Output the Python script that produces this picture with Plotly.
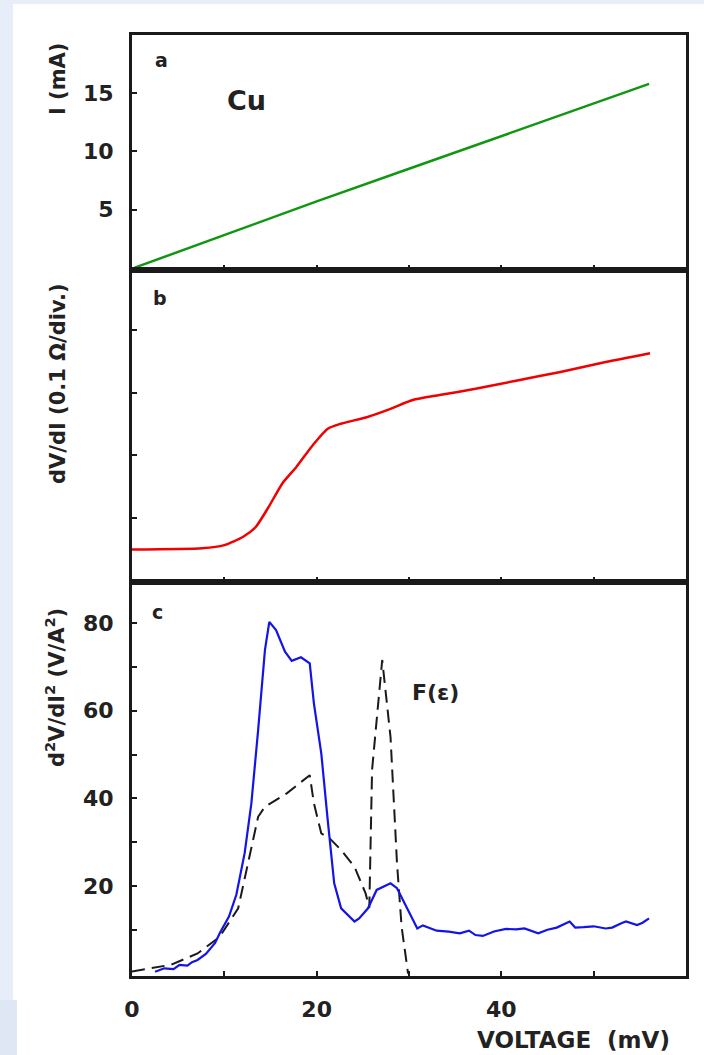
import plotly.graph_objects as go

# ---------------- data ----------------
# panel a : I-V curve (mV, mA)
V_a = [0.3, 10, 20, 30, 40, 50, 56]
I_a = [0.0, 2.8, 5.7, 8.5, 11.3, 14.1, 15.8]

# panel b : dV/dI (divisions of 0.1 ohm)
V_b = [0.0, 7.6, 10.0, 12.0, 13.4, 14.8, 16.3, 17.8, 19.7, 21.2, 22.6, 25.5,
       28.0, 30.4, 33.3, 37.2, 41.6, 46.4, 51.3, 56.1]
R_b = [0.49, 0.51, 0.56, 0.69, 0.85, 1.17, 1.55, 1.81, 2.18, 2.42, 2.50, 2.61,
       2.74, 2.88, 2.96, 3.06, 3.19, 3.33, 3.49, 3.63]

# panel c : d2V/dI2 (V/A^2), measured (blue)
V_c = [2.5, 3.5, 4.5, 5.15, 6.0, 6.5, 7.1, 8.0, 9.0, 9.5, 10.5, 11.3, 12.2,
       12.93, 13.66, 14.4, 14.87, 15.6, 16.57, 17.3, 18.3, 19.25, 19.7, 20.5,
       21.2, 21.7, 21.9, 22.65, 24.1, 24.6, 25.56, 26.5, 28.0, 28.7, 29.7,
       30.9, 31.5, 32.4, 33.0, 34.3, 35.5, 36.5, 37.2, 38.0, 39.2, 40.5, 41.6,
       42.5, 43.5, 44.0, 45.0, 46.0, 47.4, 48.0, 48.9, 50.0, 51.3, 52.0, 53.0,
       53.5, 54.7, 55.3, 56.0]
D_c = [0.4, 1.2, 1.0, 2.0, 1.8, 2.6, 3.1, 4.5, 7.0, 9.2, 13.0, 18.0, 27.5,
       38.9, 55.6, 73.9, 80.3, 78.4, 73.5, 71.4, 72.2, 70.8, 61.7, 50.3,
       35.0, 23.7, 20.6, 14.9, 11.9, 12.6, 14.9, 19.1, 20.6, 19.5, 15.3,
       10.3, 11.0, 10.3, 9.8, 9.6, 9.2, 9.8, 8.8, 8.6, 9.6, 10.2, 10.1,
       10.3, 9.6, 9.2, 10.0, 10.5, 11.9, 10.5, 10.6, 10.8, 10.3, 10.5, 11.5,
       11.9, 11.1, 11.6, 12.6]

# panel c : phonon density of states F(eps) (dashed)
V_F = [0.0, 4.2, 7.1, 9.5, 11.5, 12.9, 13.66, 14.4, 16.8, 19.25, 19.7, 20.5,
       21.4, 22.65, 24.1, 25.3, 25.7, 26.0, 27.1, 28.0, 28.7, 29.2, 29.9]
F_e = [0.5, 2.0, 4.6, 8.4, 14.9, 28.2, 35.8, 38.1, 41.2, 45.3, 38.9, 32.0,
       30.9, 28.2, 24.4, 18.3, 15.0, 46.5, 71.6, 54.0, 25.2, 10.7, 0.0]

x_tickvals = [0, 10, 20, 30, 40, 50]
x_ticktext = ["0", "", "20", "", "40", ""]
a_tickvals = [5, 10, 15]
a_ticktext = ["5", "10", "15"]
b_tickvals = [1, 2, 3, 4]
c_tickvals = [10, 20, 30, 40, 50, 60, 70, 80]
c_ticktext = ["", "20", "", "40", "", "60", "", "80"]

# ---------------- figure ----------------
W, H = 704, 1055
L, R, T, B = 132, 18, 35, 79
PW, PH = W - L - R, H - T - B


def px(x):
    return (x - L) / PW


def py(y):
    return (H - B - y) / PH


FONT = "DejaVu Sans"
INK = "#222222"

fig = go.Figure()
fig.add_trace(go.Scatter(x=V_a, y=I_a, mode="lines", xaxis="x", yaxis="y",
                         line=dict(color="#119611", width=2.5), showlegend=False))
fig.add_trace(go.Scatter(x=V_b, y=R_b, mode="lines", xaxis="x2", yaxis="y2",
                         line=dict(color="#f00000", width=2.5, shape="spline",
                                   smoothing=0.6),
                         showlegend=False))
fig.add_trace(go.Scatter(x=V_F, y=F_e, mode="lines", xaxis="x3", yaxis="y3",
                         line=dict(color="#1a1a1a", width=2, dash="13px,7px"),
                         showlegend=False))
fig.add_trace(go.Scatter(x=V_c, y=D_c, mode="lines", xaxis="x3", yaxis="y3",
                         line=dict(color="#1414e6", width=2.2), showlegend=False))

dom_c = [0, py(582)]
dom_b = [py(582), py(270)]
dom_a = [py(270), 1]

ax_common = dict(showline=True, mirror=True, linecolor="#1a1a1a", linewidth=3,
                 showgrid=False, zeroline=False, ticks="inside", ticklen=5,
                 tickcolor="#1a1a1a", tickwidth=1.5)
tickfont = dict(family=FONT, size=22, color=INK, weight="bold")

fig.update_layout(
    width=W, height=H,
    margin=dict(l=L, r=R, t=T, b=B),
    paper_bgcolor="white", plot_bgcolor="white",
    xaxis=dict(domain=[0, 1], anchor="y", range=[0, 60], tickvals=x_tickvals,
               showticklabels=False, **ax_common),
    yaxis=dict(domain=dom_a, anchor="x", range=[-0.2, 20], tickvals=a_tickvals,
               ticktext=a_ticktext, tickfont=tickfont, ticklabelstandoff=11,
               **ax_common),
    xaxis2=dict(domain=[0, 1], anchor="y2", range=[0, 60], tickvals=x_tickvals,
                showticklabels=False, **ax_common),
    yaxis2=dict(domain=dom_b, anchor="x2", range=[-0.03, 4.96],
                tickvals=b_tickvals, showticklabels=False, **ax_common),
    xaxis3=dict(domain=[0, 1], anchor="y3", range=[0, 60], tickvals=x_tickvals,
                ticktext=x_ticktext, tickfont=tickfont, ticklabelstandoff=12,
                **ax_common),
    yaxis3=dict(domain=dom_c, anchor="x3", range=[-0.55, 89.4],
                tickvals=c_tickvals, ticktext=c_ticktext, tickfont=tickfont,
                ticklabelstandoff=11, **ax_common),
)

# light blue page border
BLUE = "#e7eef9"
fig.add_shape(type="rect", xref="paper", yref="paper", layer="below",
              x0=px(0), x1=px(13), y0=py(1055), y1=py(0),
              fillcolor=BLUE, line=dict(width=0))
fig.add_shape(type="rect", xref="paper", yref="paper", layer="below",
              x0=px(0), x1=px(704), y0=py(4), y1=py(0),
              fillcolor=BLUE, line=dict(width=0))
fig.add_shape(type="rect", xref="paper", yref="paper", layer="below",
              x0=px(0), x1=px(17), y0=py(1055), y1=py(1000),
              fillcolor="#dfe7f4", line=dict(width=0))


def note(text, x, y, font, angle=0):
    fig.add_annotation(text=text, x=px(x), y=py(y), xref="paper", yref="paper",
                       xanchor="center", yanchor="middle", textangle=angle,
                       showarrow=False, font=font)


# axis titles
title_font = dict(family=FONT, size=21, color=INK, weight="bold")
note("I (mA)", 58, 79, title_font, -90)
note("dV/dI (0.1 Ω/div.)", 58, 384, title_font, -90)
note("d<sup>2</sup>V/dI<sup>2</sup> (V/A<sup>2</sup>)", 55, 688, title_font, -90)
note("VOLTAGE  (mV)", 573, 1040,
     dict(family=FONT, size=23, color=INK, weight="bold"))

# panel labels
lab_font = dict(family=FONT, size=19, color=INK, weight="bold")
note("a", 161, 60, lab_font)
note("b", 160, 298, lab_font)
note("c", 157, 612, lab_font)
note("Cu", 246, 100, dict(family=FONT, size=27, color=INK, weight="bold"))
note("F(ε)", 435, 692, dict(family=FONT, size=22, color=INK, weight="bold"))

fig.write_html("out.html")
